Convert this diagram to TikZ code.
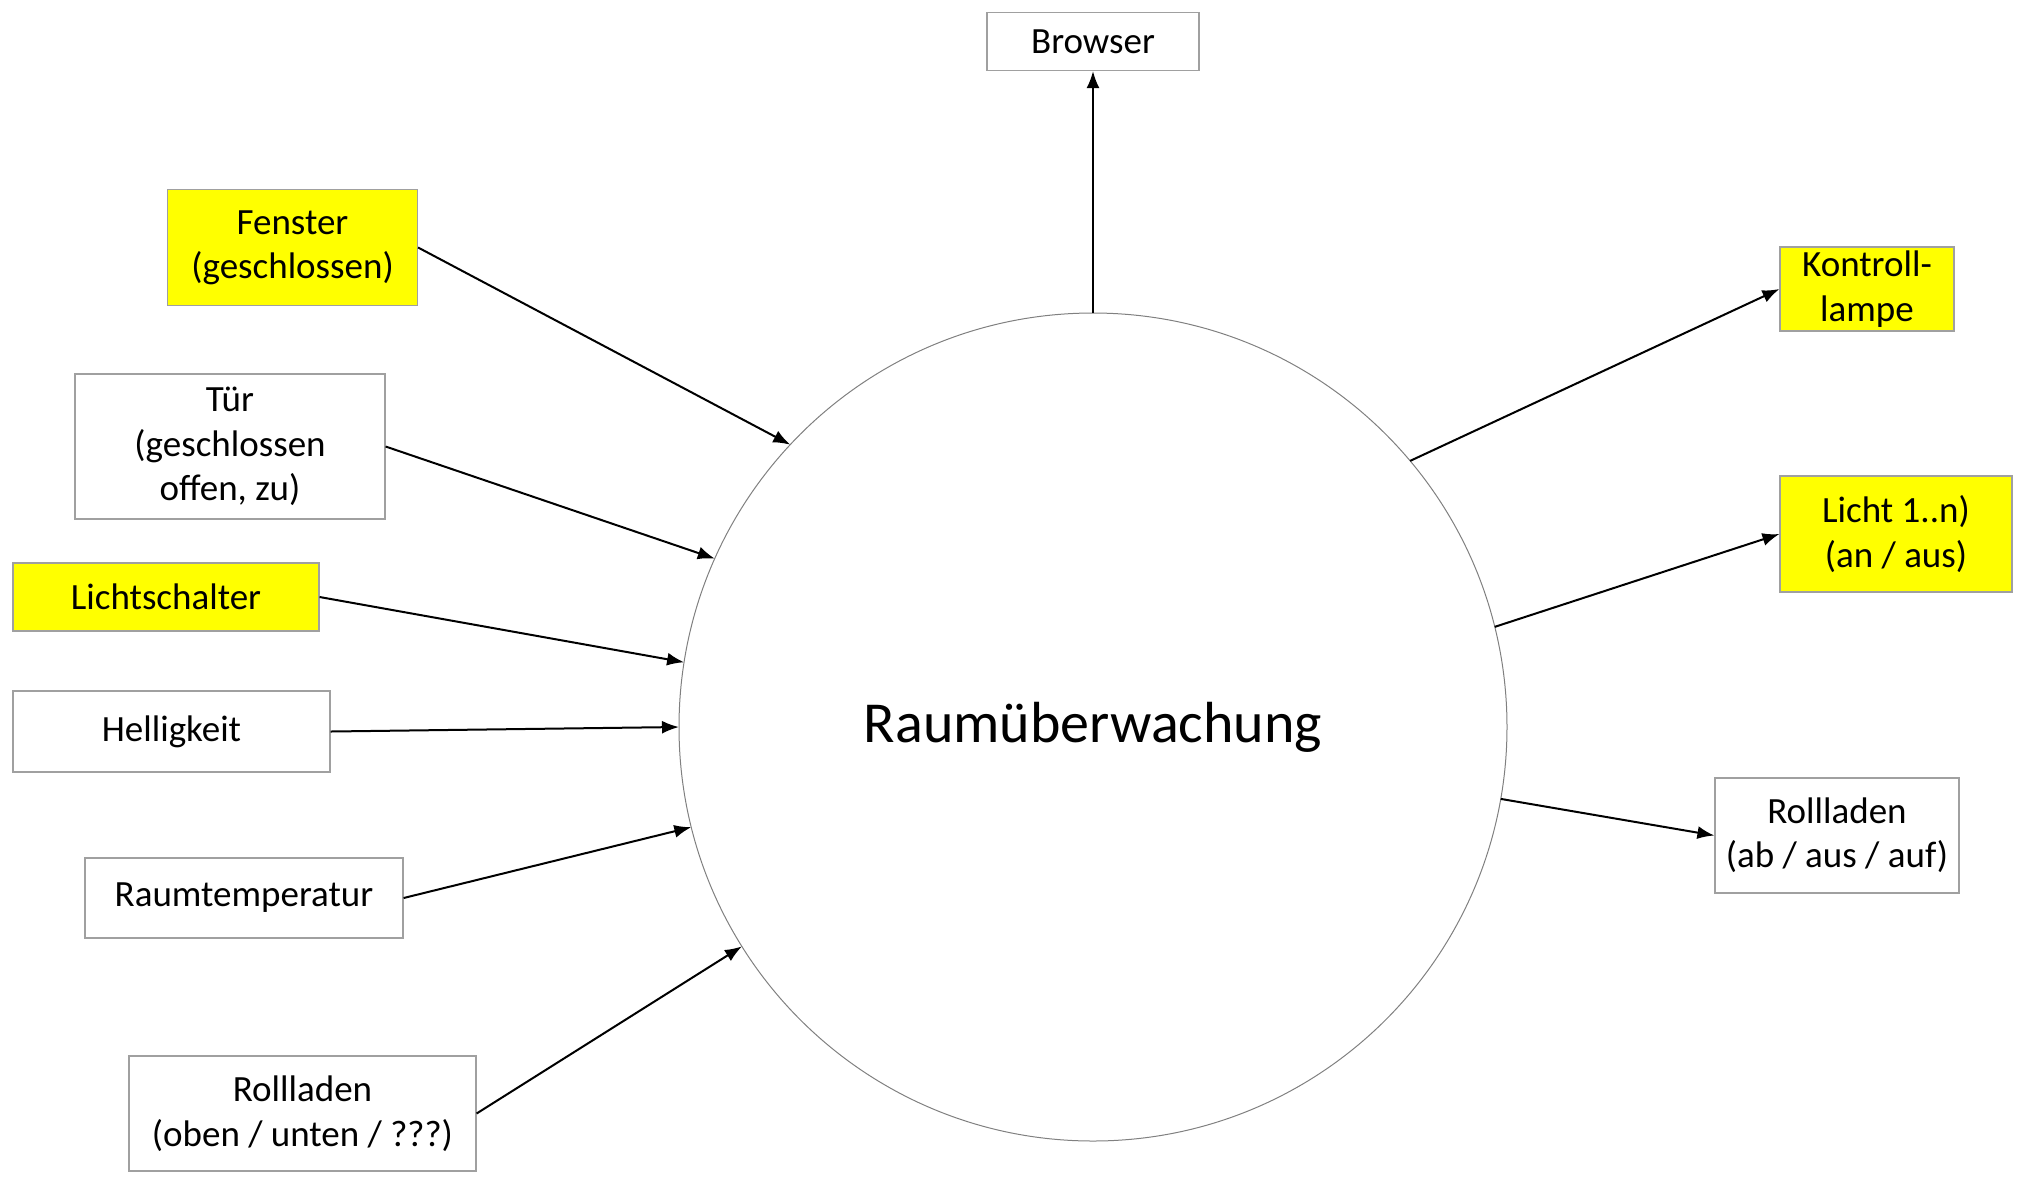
\documentclass[tikz,border=0pt]{standalone}
\usepackage{fontspec}
\setmainfont{Carlito}
\usetikzlibrary{arrows.meta}
\definecolor{boxyellow}{HTML}{FFFF00}
\definecolor{boxline}{HTML}{A0A0A0}
\tikzset{
  box/.style={draw=boxline, line width=0.6pt, inner sep=0pt, align=center,
    font=\fontsize{18.5}{22.2}\selectfont},
  ybox/.style={box, fill=boxyellow},
  wbox/.style={box, fill=white},
  conn/.style={line width=1pt, -{Latex[length=8.5pt,width=6.5pt]}}
}
\begin{document}
\begin{tikzpicture}[x=0.5pt,y=0.5pt]
\useasboundingbox (0,0) rectangle (2024,-1180);
\node[circle, draw=gray, line width=0.5pt, minimum size=414pt, inner sep=0pt, outer sep=0pt,
  font=\fontsize{29}{34}\selectfont] (c) at (1093,-727) {Raumüberwachung};
\node[wbox, minimum width=106pt, minimum height=29pt] (browser) at (1093,-41.5) {Browser};
\node[ybox, minimum width=125pt, minimum height=58pt] (fenster) at (292.5,-247.5) {Fenster\\(geschlossen)};
\node[wbox, minimum width=155pt, minimum height=72.5pt] (tuer) at (230,-446.5) {Tür\\(geschlossen\\offen, zu)};
\node[ybox, minimum width=153pt, minimum height=34pt] (schalter) at (166,-597) {Lichtschalter};
\node[wbox, minimum width=158.5pt, minimum height=40.5pt] (hell) at (171.5,-731.5) {Helligkeit};
\node[wbox, minimum width=159pt, minimum height=40pt] (temp) at (244,-898) {Raumtemperatur};
\node[wbox, minimum width=173.5pt, minimum height=57.5pt] (rollin) at (302.5,-1113.5) {Rollladen\\(oben / unten / ???)};
\node[ybox, minimum width=87pt, minimum height=42pt] (kontroll) at (1867,-289) {Kontroll-\\lampe};
\node[ybox, minimum width=116pt, minimum height=58pt] (licht) at (1896,-534) {Licht 1..n)\\(an / aus)};
\node[wbox, minimum width=122pt, minimum height=57.5pt] (rollout) at (1837,-835.5) {Rollladen\\(ab / aus / auf)};

\draw[conn] (fenster.east) -- (c.137);
\draw[conn] (tuer.east) -- (c.156);
\draw[conn] (schalter.east) -- (c.171.6);
\draw[conn] (hell.east) -- (c.180.1);
\draw[conn] (temp.east) -- (c.194.4);
\draw[conn] (rollin.east) -- (c.212.4);
\draw[conn] (c.90) -- (browser.south);
\draw[conn] (c.40.9) -- (kontroll.west);
\draw[conn] (c.14) -- (licht.west);
\draw[conn] (c.-10.1) -- (rollout.west);
\end{tikzpicture}
\end{document}
